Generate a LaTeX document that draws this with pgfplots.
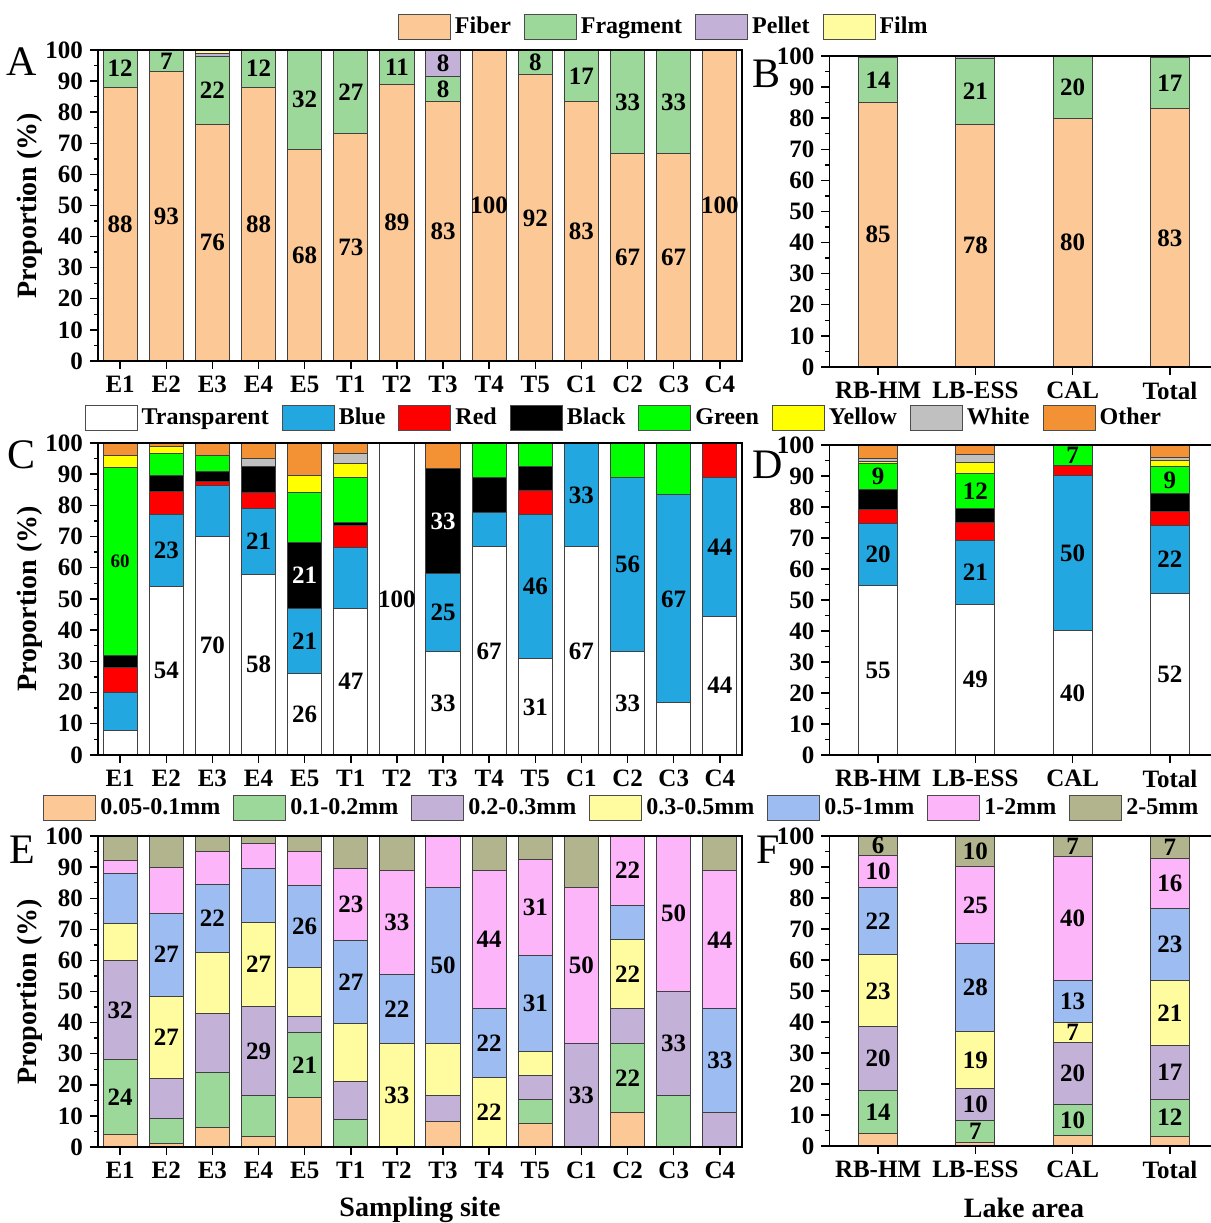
\documentclass[border=0pt]{standalone}
\usepackage{pgfplots}
\pgfplotsset{compat=1.18}
\usepackage{pgfplotstable}
\usepackage{fontspec}
\setmainfont{Liberation Serif}
\definecolor{cFib}{HTML}{FBC896}
\definecolor{cFra}{HTML}{9DD89B}
\definecolor{cPel}{HTML}{C3B1D8}
\definecolor{cFil}{HTML}{FFFCA0}
\definecolor{cBlue}{HTML}{22A7E0}
\definecolor{cRed}{HTML}{FF0000}
\definecolor{cGreen}{HTML}{00FF00}
\definecolor{cYel}{HTML}{FFFF00}
\definecolor{cWhite}{HTML}{C0C0C0}
\definecolor{cOth}{HTML}{F39234}
\definecolor{sA}{HTML}{FBC896}
\definecolor{sB}{HTML}{9DD89B}
\definecolor{sC}{HTML}{C3B1D8}
\definecolor{sD}{HTML}{FFFCA0}
\definecolor{sE}{HTML}{9DBCF1}
\definecolor{sF}{HTML}{FDB5F9}
\definecolor{sG}{HTML}{B2B48D}

% Panel A: Fiber Fragment Pellet Film
\pgfplotstableread{
x fib fra pel fil
0 88 12 0 0
1 93 7 0 0
2 76 22 1 1
3 88 12 0 0
4 68 32 0 0
5 73 27 0 0
6 89 11 0 0
7 83.3 8.3 8.4 0
8 100 0 0 0
9 92 8 0 0
10 83.3 16.7 0 0
11 66.7 33.3 0 0
12 66.7 33.3 0 0
13 100 0 0 0
}\tA
\pgfplotstableread{
x fib fra pel fil
0 85.2 14.3 0.3 0.2
1 78 21.3 0.7 0
2 80 20 0 0
3 83 16.6 0.3 0.1
}\tB
% Panel C: Transparent Blue Red Black Green Yellow White Other
\pgfplotstableread{
x tr bl re bk gr ye wh ot
0 8 12 8 4 60 4 0 4
1 54 23 7.5 5 7 2.5 0 1
2 70 16.5 1 3.3 5.2 0 0 4
3 58 21 5 8.5 0 0 2.5 5
4 26 21 0 21 16 5.5 0 10.5
5 47 19.5 7 1 14.5 4.5 3.2 3.3
6 100 0 0 0 0 0 0 0
7 33.3 25 0 33.4 0 0 0 8.3
8 66.7 11.1 0 11.1 11.1 0 0 0
9 30.8 46.2 7.7 7.7 7.6 0 0 0
10 66.7 33.3 0 0 0 0 0 0
11 33.3 55.6 0 0 11.1 0 0 0
12 16.7 66.7 0 0 16.6 0 0 0
13 44.4 44.5 11.1 0 0 0 0 0
}\tC
\pgfplotstableread{
x tr bl re bk gr ye wh ot
0 54.7 20 4.5 6.3 8.5 0.8 0.8 4.4
1 48.7 20.5 5.7 4.7 11.3 3.3 2.6 3.2
2 40 50 3.3 0 6.7 0 0 0
3 52.2 21.7 4.7 5.6 9 1.7 1.1 4
}\tD
% Panel E: size classes
\pgfplotstableread{
x a b c d e f g
0 4 24 32 12 16 4 8
1 1 8.2 12.7 26.6 26.7 14.8 10
2 6.3 17.6 18.9 19.8 21.9 10.4 5.1
3 3.4 13.2 28.7 27 17.4 7.8 2.5
4 15.8 21 5.2 15.8 26.3 10.8 5.1
5 0 8.8 12.3 18.7 26.5 23.1 10.6
6 0 0 0 33.3 22.2 33.3 11.2
7 8.3 0 8.3 16.7 50 16.7 0
8 0 0 0 22.2 22.2 44.5 11.1
9 7.7 7.7 7.7 7.7 30.8 30.8 7.6
10 0 0 33.3 0 0 50 16.7
11 11.1 22.2 11.1 22.2 11.1 22.3 0
12 0 16.7 33.3 0 0 50 0
13 0 0 11.1 0 33.3 44.5 11.1
}\tE
\pgfplotstableread{
x a b c d e f g
0 4 14 20.4 23.3 21.6 10.5 6.2
1 1.2 6.9 10.4 18.5 28.2 25 9.8
2 3.3 10 20 6.7 13.3 40 6.7
3 3.2 11.9 17.3 21 23.2 16.3 7.1
}\tF

\newcommand{\labfont}{\bfseries\fontsize{12.5}{12.5}\selectfont}
\newcommand{\lab}[3]{\node[font=\labfont,inner sep=0pt] at (axis cs:#1,#2) {#3};}
\newcommand{\labw}[3]{\node[font=\labfont,text=white,inner sep=0pt] at (axis cs:#1,#2) {#3};}

\pgfplotsset{
  seg/.style={fill=#1, draw=black!75, line width=0.5pt,
     legend image code/.code={\draw[fill=#1, draw=black!70, line width=0.5pt] (0pt,-6.25pt) rectangle (26pt,6.25pt);}},
  panel/.style={
    axis on top,
    scale only axis, ybar stacked, ymin=0, ymax=100,
    ytick={0,10,...,100}, minor y tick num=1,
    tick align=outside, xtick pos=left, ytick pos=left,
    axis line style={line width=0.8pt, black},
    major tick length=4pt, minor tick length=2.2pt,
    every tick/.style={black, line width=0.7pt},
    tick label style={font=\labfont},
    /pgf/number format/assume math mode=true,
    every axis y label/.style={at={(axis description cs:-0.1056,0.5)}, rotate=90, anchor=center, font=\bfseries\fontsize{14}{14}\selectfont},
    every axis x label/.style={at={(axis description cs:0.5,-0.2026)}, anchor=center, font=\bfseries\fontsize{14}{14}\selectfont},
    anchor=south west,
  },
  sites/.style={panel, width=322pt, xmin=-0.48, xmax=13.48, xtick={0,...,13},
    xticklabels={E1,E2,E3,E4,E5,T1,T2,T3,T4,T5,C1,C2,C3,C4}, bar width=0.74,
    ylabel={Proportion (\%)}},
  lakes/.style={panel, width=194.6pt, xmin=-0.5, xmax=3.5, xtick={0,...,3},
    xticklabels={RB-HM,LB-ESS,CAL,Total}, bar width=0.4},
  labsites/.style={scale only axis, hide axis, clip=false, anchor=south west, ymin=0, ymax=100,
    width=322pt, xmin=-0.48, xmax=13.48},
  lablakes/.style={scale only axis, hide axis, clip=false, anchor=south west, ymin=0, ymax=100,
    width=194.6pt, xmin=-0.5, xmax=3.5},
  legrow/.style={legend columns=-1, legend style={draw=none, fill=none, at={(#1)}, anchor=center,
    font=\bfseries\fontsize{12}{12}\selectfont, inner sep=0pt,
    /tikz/every even column/.append style={column sep=4.5pt}}},
}

\begin{document}
\begin{tikzpicture}
\useasboundingbox (0,0) rectangle (605.5pt,611.5pt);

% ---------------- A
\begin{axis}[sites, at={(49pt,431pt)}, height=155.5pt, legrow={0.880,1.074}]
\addplot[seg=cFib] table[x=x,y=fib]{\tA}; \addlegendentry{Fiber}
\addplot[seg=cFra] table[x=x,y=fra]{\tA}; \addlegendentry{Fragment}
\addplot[seg=cPel] table[x=x,y=pel]{\tA}; \addlegendentry{Pellet}
\addplot[seg=cFil] table[x=x,y=fil]{\tA}; \addlegendentry{Film}
\end{axis}
\begin{axis}[labsites, at={(49pt,431pt)}, height=155.5pt]
\lab{0}{44}{88}\lab{0}{94}{12}
\lab{1}{46.5}{93}\lab{1}{96.5}{7}
\lab{2}{38}{76}\lab{2}{87}{22}
\lab{3}{44}{88}\lab{3}{94}{12}
\lab{4}{34}{68}\lab{4}{84}{32}
\lab{5}{36.5}{73}\lab{5}{86.5}{27}
\lab{6}{44.5}{89}\lab{6}{94.5}{11}
\lab{7}{41.7}{83}\lab{7}{87.5}{8}\lab{7}{95.8}{8}
\lab{8}{50}{100}
\lab{9}{46}{92}\lab{9}{96}{8}
\lab{10}{41.7}{83}\lab{10}{91.7}{17}
\lab{11}{33.3}{67}\lab{11}{83.3}{33}
\lab{12}{33.3}{67}\lab{12}{83.3}{33}
\lab{13}{50}{100}
\end{axis}

% ---------------- B
\begin{axis}[lakes, at={(414.7pt,428pt)}, height=155.5pt]
\addplot[seg=cFib] table[x=x,y=fib]{\tB};
\addplot[seg=cFra] table[x=x,y=fra]{\tB};
\addplot[seg=cPel] table[x=x,y=pel]{\tB};
\addplot[seg=cFil] table[x=x,y=fil]{\tB};
\end{axis}
\begin{axis}[lablakes, at={(414.7pt,428pt)}, height=155.5pt]
\lab{0}{42.6}{85}\lab{0}{92.3}{14}
\lab{1}{39}{78}\lab{1}{88.7}{21}
\lab{2}{40}{80}\lab{2}{90}{20}
\lab{3}{41.5}{83}\lab{3}{91.3}{17}
\end{axis}

% ---------------- C
\begin{axis}[sites, at={(49pt,234pt)}, height=156pt, legrow={0.818,1.080}]
\addplot[seg=white] table[x=x,y=tr]{\tC}; \addlegendentry{Transparent}
\addplot[seg=cBlue] table[x=x,y=bl]{\tC}; \addlegendentry{Blue}
\addplot[seg=cRed] table[x=x,y=re]{\tC}; \addlegendentry{Red}
\addplot[seg=black] table[x=x,y=bk]{\tC}; \addlegendentry{Black}
\addplot[seg=cGreen] table[x=x,y=gr]{\tC}; \addlegendentry{Green}
\addplot[seg=cYel] table[x=x,y=ye]{\tC}; \addlegendentry{Yellow}
\addplot[seg=cWhite] table[x=x,y=wh]{\tC}; \addlegendentry{White}
\addplot[seg=cOth] table[x=x,y=ot]{\tC}; \addlegendentry{Other}
\end{axis}
\begin{axis}[labsites, at={(49pt,234pt)}, height=156pt]
\node[font=\bfseries\fontsize{9.5}{9.5}\selectfont,inner sep=0pt] at (axis cs:0,62) {60};
\lab{1}{27}{54}\lab{1}{65.5}{23}
\lab{2}{35}{70}
\lab{3}{29}{58}\lab{3}{68.5}{21}
\lab{4}{13}{26}\lab{4}{36.5}{21}\labw{4}{57.5}{21}
\lab{5}{23.5}{47}
\lab{6}{50}{100}
\lab{7}{16.7}{33}\lab{7}{45.8}{25}\labw{7}{75}{33}
\lab{8}{33.3}{67}
\lab{9}{15.4}{31}\lab{9}{53.9}{46}
\lab{10}{33.3}{67}\lab{10}{83.3}{33}
\lab{11}{16.7}{33}\lab{11}{61.1}{56}
\lab{12}{50}{67}
\lab{13}{22.2}{44}\lab{13}{66.6}{44}
\end{axis}

% ---------------- D
\begin{axis}[lakes, at={(414.7pt,234pt)}, height=155pt]
\addplot[seg=white] table[x=x,y=tr]{\tD};
\addplot[seg=cBlue] table[x=x,y=bl]{\tD};
\addplot[seg=cRed] table[x=x,y=re]{\tD};
\addplot[seg=black] table[x=x,y=bk]{\tD};
\addplot[seg=cGreen] table[x=x,y=gr]{\tD};
\addplot[seg=cYel] table[x=x,y=ye]{\tD};
\addplot[seg=cWhite] table[x=x,y=wh]{\tD};
\addplot[seg=cOth] table[x=x,y=ot]{\tD};
\end{axis}
\begin{axis}[lablakes, at={(414.7pt,234pt)}, height=155pt]
\lab{0}{27.4}{55}\lab{0}{64.7}{20}\lab{0}{89.8}{9}
\lab{1}{24.4}{49}\lab{1}{59}{21}\lab{1}{85.1}{12}
\lab{2}{20}{40}\lab{2}{65}{50}\lab{2}{96.7}{7}
\lab{3}{26.1}{52}\lab{3}{63.1}{22}\lab{3}{88.7}{9}
\end{axis}

% ---------------- E
\begin{axis}[sites, at={(49pt,38pt)}, height=155.5pt, legrow={0.815,1.090}, xlabel={Sampling site}]
\addplot[seg=sA] table[x=x,y=a]{\tE}; \addlegendentry{0.05-0.1mm}
\addplot[seg=sB] table[x=x,y=b]{\tE}; \addlegendentry{0.1-0.2mm}
\addplot[seg=sC] table[x=x,y=c]{\tE}; \addlegendentry{0.2-0.3mm}
\addplot[seg=sD] table[x=x,y=d]{\tE}; \addlegendentry{0.3-0.5mm}
\addplot[seg=sE] table[x=x,y=e]{\tE}; \addlegendentry{0.5-1mm}
\addplot[seg=sF] table[x=x,y=f]{\tE}; \addlegendentry{1-2mm}
\addplot[seg=sG] table[x=x,y=g]{\tE}; \addlegendentry{2-5mm}
\end{axis}
\begin{axis}[labsites, at={(49pt,38pt)}, height=155.5pt]
\lab{0}{16}{24}\lab{0}{44}{32}
\lab{1}{35.2}{27}\lab{1}{61.9}{27}
\lab{2}{73.6}{22}
\lab{3}{30.9}{29}\lab{3}{58.8}{27}
\lab{4}{26.3}{21}\lab{4}{71}{26}
\lab{5}{53}{27}\lab{5}{77.9}{23}
\lab{6}{16.65}{33}\lab{6}{44.4}{22}\lab{6}{72.2}{33}
\lab{7}{58.3}{50}
\lab{8}{11.1}{22}\lab{8}{33.3}{22}\lab{8}{66.7}{44}
\lab{9}{46.2}{31}\lab{9}{77}{31}
\lab{10}{16.7}{33}\lab{10}{58.3}{50}
\lab{11}{22.2}{22}\lab{11}{55.5}{22}\lab{11}{88.9}{22}
\lab{12}{33.3}{33}\lab{12}{75}{50}
\lab{13}{27.8}{33}\lab{13}{66.6}{44}
\end{axis}

% ---------------- F
\begin{axis}[lakes, at={(414.7pt,38.5pt)}, height=155pt, xlabel={Lake area},
  every axis x label/.style={at={(axis description cs:0.5,-0.2)}, anchor=center, font=\bfseries\fontsize{14}{14}\selectfont}]
\addplot[seg=sA] table[x=x,y=a]{\tF};
\addplot[seg=sB] table[x=x,y=b]{\tF};
\addplot[seg=sC] table[x=x,y=c]{\tF};
\addplot[seg=sD] table[x=x,y=d]{\tF};
\addplot[seg=sE] table[x=x,y=e]{\tF};
\addplot[seg=sF] table[x=x,y=f]{\tF};
\addplot[seg=sG] table[x=x,y=g]{\tF};
\end{axis}
\begin{axis}[lablakes, at={(414.7pt,38.5pt)}, height=155pt]
\lab{0}{11}{14}\lab{0}{28.2}{20}\lab{0}{50.05}{23}\lab{0}{72.5}{22}\lab{0}{88.55}{10}\lab{0}{96.9}{6}
\lab{1}{4.65}{7}\lab{1}{13.3}{10}\lab{1}{27.75}{19}\lab{1}{51.1}{28}\lab{1}{77.7}{25}\lab{1}{95.1}{10}
\lab{2}{8.3}{10}\lab{2}{23.3}{20}\lab{2}{36.7}{7}\lab{2}{46.7}{13}\lab{2}{73.3}{40}\lab{2}{96.65}{7}
\lab{3}{9.15}{12}\lab{3}{23.75}{17}\lab{3}{42.9}{21}\lab{3}{65}{23}\lab{3}{84.7}{16}\lab{3}{96.45}{7}
\end{axis}

% panel letters
\node[font=\fontsize{21}{21}\selectfont] at (11pt,580.5pt) {A};
\node[font=\fontsize{21}{21}\selectfont] at (383.5pt,574.5pt) {B};
\node[font=\fontsize{21}{21}\selectfont] at (11pt,384pt) {C};
\node[font=\fontsize{21}{21}\selectfont] at (384pt,379pt) {D};
\node[font=\fontsize{21}{21}\selectfont] at (11pt,186.5pt) {E};
\node[font=\fontsize{21}{21}\selectfont] at (384pt,186.5pt) {F};
\end{tikzpicture}
\end{document}
